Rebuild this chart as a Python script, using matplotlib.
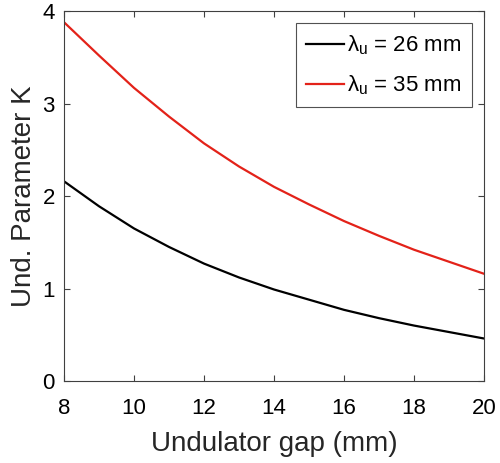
import numpy as np
import matplotlib.pyplot as plt

plt.rcParams['font.family'] = ['Liberation Sans', 'DejaVu Sans']
plt.rcParams['mathtext.fontset'] = 'custom'
plt.rcParams['mathtext.it'] = 'Liberation Sans:italic'
plt.rcParams['mathtext.rm'] = 'Liberation Sans'

# undulator gap (mm) and K parameter
gap = [8, 9, 10, 11, 12, 13, 14, 15, 16, 17, 18, 19, 20]
k_26 = [2.16, 1.89, 1.65, 1.45, 1.27, 1.12, 0.99, 0.88, 0.77, 0.68, 0.60, 0.53, 0.46]
k_35 = [3.88, 3.52, 3.17, 2.86, 2.57, 2.32, 2.10, 1.91, 1.73, 1.57, 1.42, 1.29, 1.16]

fig = plt.figure(figsize=(5, 4.63), dpi=100)
ax = fig.add_axes([0.128, 0.177, 0.84, 0.799])

ax.plot(gap, k_26, color='black', lw=1.6, label=r'$\mathrm{λ}_\mathrm{u}$ = 26 mm')
ax.plot(gap, k_35, color='#e32219', lw=1.6, label=r'$\mathrm{λ}_\mathrm{u}$ = 35 mm')

ax.set_xlim(8, 20)
ax.set_ylim(0, 4)
ax.set_xticks(np.arange(8, 21, 2))
ax.set_yticks(np.arange(0, 5, 1))
ax.tick_params(direction='in', length=4, width=0.8, labelsize=16, color='#404040',
               top=True, right=True)
ax.tick_params(axis='x', pad=12)
ax.tick_params(axis='y', pad=6.5)
for s in ax.spines.values():
    s.set_color('#404040')
    s.set_linewidth(0.8)

ax.set_xlabel('Undulator gap (mm)', fontsize=20, color='#262626', labelpad=9)
ax.set_ylabel('Und. Parameter K', fontsize=20, color='#262626', labelpad=4)

leg = ax.legend(loc='upper right', fontsize=16, frameon=True, fancybox=False,
                edgecolor='#262626', handlelength=1.7, handletextpad=0.15,
                borderaxespad=0.55, borderpad=0.45, labelspacing=0.75)
leg.get_frame().set_linewidth(0.8)

fig.savefig('out.png', dpi=100)
